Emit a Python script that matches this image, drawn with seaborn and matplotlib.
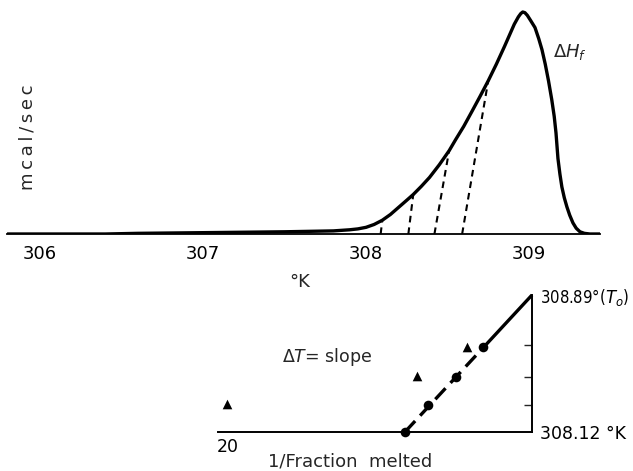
import matplotlib
matplotlib.use("Agg")
import matplotlib.pyplot as plt
import seaborn as sns
import pandas as pd

sns.set_style("white")
plt.rcParams['font.family'] = ['DejaVu Sans']
plt.rcParams['mathtext.fontset'] = 'dejavusans'

# ---- Top panel data: DSC melting curve ----
temp_K = [305.80, 306.40, 306.60, 307.00, 307.50, 307.80, 307.90, 307.95, 308.00,
          308.05, 308.10, 308.15, 308.20, 308.25, 308.29, 308.34, 308.39, 308.45,
          308.51, 308.55, 308.60, 308.65, 308.70, 308.75, 308.80, 308.85, 308.88,
          308.91, 308.935, 308.95, 308.962, 308.975, 308.99, 309.01, 309.037,
          309.06, 309.08, 309.10, 309.12, 309.14, 309.155, 309.166, 309.178,
          309.19, 309.202, 309.217, 309.233, 309.25, 309.27, 309.29, 309.313,
          309.34, 309.374, 309.436]
heat_flow = [0.0, 0.0, 0.003, 0.006, 0.010, 0.014, 0.019, 0.023, 0.030,
             0.043, 0.062, 0.088, 0.120, 0.152, 0.178, 0.215, 0.255, 0.312,
             0.375, 0.425, 0.485, 0.552, 0.620, 0.690, 0.765, 0.845, 0.895,
             0.945, 0.978, 0.993, 1.000, 0.997, 0.985, 0.962, 0.930,
             0.880, 0.830, 0.765, 0.690, 0.605, 0.530, 0.455, 0.340,
             0.270, 0.212, 0.163, 0.122, 0.085, 0.050, 0.026, 0.010,
             0.003, 0.0, 0.0]
# partial-area dashed lines (foot temperature, top temperature, top height)
dash_foot_T = [308.09, 308.26, 308.42, 308.59]
dash_top_T = [308.10, 308.29, 308.51, 308.75]
dash_top_h = [0.062, 0.178, 0.375, 0.690]
top_ticks = [306, 307, 308, 309]

# ---- Bottom panel data: T vs 1/fraction melted ----
inv_F_circles = [8.36, 6.84, 5.00, 3.22]
T_circles = [308.12, 308.27, 308.43, 308.60]
inv_F_triangles = [20.07, 7.57, 4.28]
T_triangles = [308.28, 308.435, 308.60]
fit_x = [8.36, 3.22, 0.0]
fit_y = [308.12, 308.593, 308.89]
right_minor_ticks = [308.27, 308.43, 308.61]

W, H = 633, 471
fig = plt.figure(figsize=(W / 100, H / 100), dpi=100)

# ---------------- top panel ----------------
ax1 = fig.add_axes([7 / W, (H - 234) / H, 593 / W, 229 / H])
df_top = pd.DataFrame({"T": temp_K, "h": heat_flow})
sns.lineplot(data=df_top, x="T", y="h", ax=ax1, color="black", linewidth=2.4,
             sort=False, estimator=None, solid_joinstyle="round",
             solid_capstyle="round")
for ft, tt, th in zip(dash_foot_T, dash_top_T, dash_top_h):
    ax1.plot([ft, tt], [0, th], color="black", linewidth=1.5,
             linestyle=(0, (3.2, 2.4)))
ax1.set_xlim(305.797, 309.436)
ax1.set_ylim(0, 229 / 222)
for s in ["top", "left", "right"]:
    ax1.spines[s].set_visible(False)
ax1.spines["bottom"].set_linewidth(1.3)
ax1.spines["bottom"].set_color("black")
ax1.set_xticks(top_ticks)
ax1.set_xticklabels([str(t) for t in top_ticks])
ax1.set_yticks([])
ax1.tick_params(axis="x", length=0, pad=8, labelsize=13, labelcolor="black")
ax1.set_xlabel("")
ax1.set_ylabel("")
ax1.grid(False)
fig.text(553 / W, (H - 52) / H, r"$\Delta H_f$", fontsize=13,
         ha="left", va="center")

fig.text(300 / W, (H - 282) / H, "°K", fontsize=13, ha="center", va="center")
fig.text(28 / W, (H - 137) / H, "m\u2009c\u2009a\u2009l\u2009/\u2009s\u2009e\u2009c",
         fontsize=13, rotation=90, ha="center", va="center")

# ---------------- bottom panel ----------------
ax2 = fig.add_axes([218 / W, (H - 432) / H, 314 / W, 137 / H])
ax2.set_xlim(20.658, 0.0)
ax2.set_ylim(308.12, 308.89)
# fit line: dashed through the circles, solid extrapolation to T0
ax2.plot(fit_x[:2], fit_y[:2], color="black", linewidth=2.4,
         linestyle=(0, (4.5, 2.2)), clip_on=False, zorder=2)
ax2.plot(fit_x[1:], fit_y[1:], color="black", linewidth=2.4,
         clip_on=False, zorder=2, solid_capstyle="butt")
df_c = pd.DataFrame({"x": inv_F_circles, "y": T_circles})
df_t = pd.DataFrame({"x": inv_F_triangles, "y": T_triangles})
sns.scatterplot(data=df_c, x="x", y="y", ax=ax2, color="black", marker="o",
                s=48, edgecolor="black", linewidth=0, clip_on=False, zorder=3)
sns.scatterplot(data=df_t, x="x", y="y", ax=ax2, color="black", marker="^",
                s=48, edgecolor="black", linewidth=0, clip_on=False, zorder=3)
for s in ["top", "left"]:
    ax2.spines[s].set_visible(False)
for s in ["bottom", "right"]:
    ax2.spines[s].set_linewidth(1.4)
    ax2.spines[s].set_color("black")
ax2.set_xticks([20, 10])
ax2.set_xticklabels(["20", ""])
ax2.tick_params(axis="x", direction="in", length=6, width=1.0, pad=4,
                labelsize=12.5, colors="black")
ax2.yaxis.tick_right()
ax2.set_yticks([308.12, 308.89])
ylabels = ax2.set_yticklabels(["308.12 °K", r"308.89°($T_o$)"])
ax2.set_yticks(right_minor_ticks, minor=True)
ax2.tick_params(axis="y", which="major", length=0, pad=6, labelsize=12.5,
                colors="black")
ax2.tick_params(axis="y", which="minor", direction="in", length=6, width=1.0,
                right=True, left=False)
for lab in ax2.get_yticklabels():
    if "T_o" in lab.get_text():
        lab.set_fontstretch("condensed")
        lab.set_fontsize(12)
ax2.set_xlabel("")
ax2.set_ylabel("")
ax2.grid(False)
fig.text(350 / W, (H - 466) / H, "1/Fraction  melted", fontsize=13,
         ha="center", va="baseline")
fig.text(282 / W, (H - 357) / H, r"$\Delta T$= slope", fontsize=12.5,
         ha="left", va="center")

fig.savefig("out.png", dpi=100)
